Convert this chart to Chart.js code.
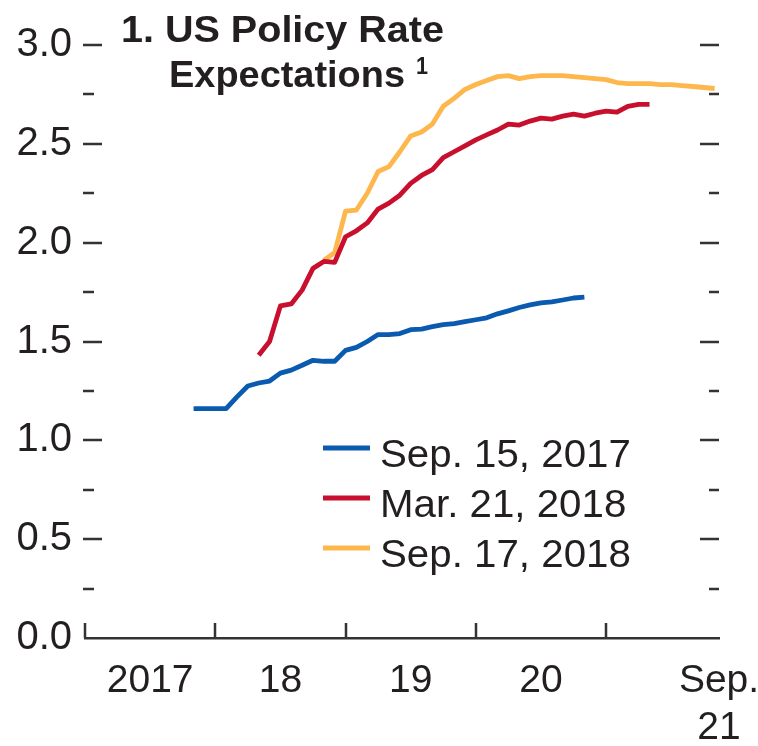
<!DOCTYPE html>
<html>
<head>
<meta charset="utf-8">
<title>US Policy Rate Expectations</title>
<script src="https://cdn.jsdelivr.net/npm/chart.js@4.4.1/dist/chart.umd.min.js"></script>
<style>
    html, body { margin: 0; padding: 0; background: #fff; }
    #wrap { width: 758px; height: 746px; position: relative; }
</style>
</head>
<body>
<div id="wrap"><canvas id="chart"></canvas></div>
<script>
// Courbes de taux implicites (fed funds), x = mois depuis janvier 2017
const seriesLabels = ['Sep. 15, 2017', 'Mar. 21, 2018', 'Sep. 17, 2018'];
const seriesColors = ['#0a5bb0', '#c8102e', '#fdb74d'];

// premier mois de chaque courbe
const seriesStarts = [10, 16, 22];

const sep2017 = [1.16, 1.16, 1.16, 1.16, 1.22, 1.275, 1.29, 1.30, 1.34, 1.355,
    1.38, 1.405, 1.40, 1.40, 1.455, 1.47, 1.50, 1.535, 1.535, 1.54,
    1.56, 1.563, 1.575, 1.585, 1.59, 1.60, 1.61, 1.62, 1.64, 1.655,
    1.672, 1.685, 1.695, 1.70, 1.71, 1.72, 1.725];

const mar2018 = [1.43, 1.50, 1.68, 1.69, 1.76, 1.87, 1.905, 1.90, 2.03, 2.06,
    2.10, 2.17, 2.20, 2.24, 2.30, 2.34, 2.37, 2.43, 2.46, 2.49,
    2.52, 2.545, 2.57, 2.60, 2.595, 2.615, 2.63, 2.625, 2.64, 2.65,
    2.64, 2.655, 2.665, 2.66, 2.69, 2.70, 2.70];

const sep2018 = [1.91, 1.95, 2.16, 2.165, 2.25, 2.36, 2.385, 2.46, 2.54, 2.56,
    2.60, 2.69, 2.73, 2.775, 2.80, 2.82, 2.84, 2.845, 2.83, 2.84,
    2.845, 2.845, 2.845, 2.84, 2.835, 2.83, 2.825, 2.81, 2.805, 2.805,
    2.805, 2.80, 2.80, 2.795, 2.79, 2.785, 2.78];

// axes
const xMax = 58.4;
const yearStarts = [0, 12, 24, 36, 48];
const xTickMonths = [6, 18, 30, 42, 58.4];
const xTickLabels = ['2017', '18', '19', '20', ['Sep.', '21']];
const yMax = 3;
const yStep = 0.5;
const yMinorStep = 0.25;

const FONT = '"Liberation Sans", Arial, Helvetica, sans-serif';
const INK = '#231f20';

function toPoints(values, start) {
    return values.map((v, i) => ({ x: start + i, y: v }));
}

// Petits traits vers l'intérieur sur les deux axes verticaux et en bas
const tickMarks = {
    id: 'tickMarks',
    afterDraw(chart) {
        const { ctx, chartArea: a, scales: { x, y } } = chart;
        ctx.save();
        ctx.strokeStyle = '#333';
        ctx.lineWidth = 2.5;
        ctx.beginPath();
        for (let v = yMinorStep; v <= yMax + 1e-9; v += yMinorStep) {
            const py = Math.round(y.getPixelForValue(v));
            const major = Math.abs(v / yStep - Math.round(v / yStep)) < 1e-6;
            ctx.moveTo(a.left - 2, py);
            ctx.lineTo(a.left + (major ? 17 : 9), py);
            ctx.moveTo(a.right, py);
            ctx.lineTo(a.right - (major ? 19 : 10), py);
        }
        yearStarts.forEach(m => {
            const px = Math.round(x.getPixelForValue(m));
            ctx.moveTo(px, a.bottom);
            ctx.lineTo(px, a.bottom - 15);
        });
        ctx.stroke();
        ctx.restore();
    }
};

// Titre en gras, étiré à la largeur de la source
const panelTitle = {
    id: 'panelTitle',
    afterDraw(chart) {
        const ctx = chart.ctx;
        const line = (text, left, base, width, size) => {
            ctx.font = 'bold ' + size + 'px ' + FONT;
            const w = ctx.measureText(text).width;
            ctx.save();
            ctx.translate(left, base);
            ctx.scale(width / w, 1);
            ctx.fillText(text, 0, 0);
            ctx.restore();
        };
        ctx.save();
        ctx.fillStyle = INK;
        ctx.textBaseline = 'alphabetic';
        ctx.textAlign = 'left';
        line('1. US Policy Rate', 121, 42, 323, 36);
        line('Expectations', 169, 87, 236, 36);
        line('1', 416, 74, 12, 24);
        ctx.restore();
    }
};

// Légende dans la zone du graphique
const insideLegend = {
    id: 'insideLegend',
    afterDraw(chart) {
        const { ctx, chartArea: a } = chart;
        ctx.save();
        ctx.font = '38px ' + FONT;
        ctx.textBaseline = 'alphabetic';
        ctx.textAlign = 'left';
        chart.data.datasets.forEach((ds, i) => {
            const base = a.top + 422 + i * 50;
            ctx.strokeStyle = ds.borderColor;
            ctx.lineWidth = 5;
            ctx.beginPath();
            ctx.moveTo(a.left + 238, base - 19);
            ctx.lineTo(a.left + 285, base - 19);
            ctx.stroke();
            ctx.fillStyle = INK;
            ctx.save();
            ctx.translate(a.left + 295, base);
            ctx.scale(1.06, 1);
            ctx.fillText(ds.label, 0, 0);
            ctx.restore();
        });
        ctx.restore();
    }
};

const datasets = [sep2017, mar2018, sep2018].map((vals, i) => ({
    label: seriesLabels[i],
    data: toPoints(vals, seriesStarts[i]),
    borderColor: seriesColors[i],
    borderWidth: 4.8,
    borderJoinStyle: 'round',
    borderCapStyle: 'butt',
    pointRadius: 0,
    tension: 0,
    fill: false
}));

new Chart(document.getElementById('chart'), {
    type: 'line',
    data: { datasets: datasets },
    options: {
        responsive: true,
        maintainAspectRatio: false,
        animation: false,
        devicePixelRatio: 1,
        layout: { padding: { top: 45, right: 39, left: 0, bottom: 0 } },
        plugins: {
            legend: { display: false },
            tooltip: { enabled: false },
            title: { display: false }
        },
        scales: {
            x: {
                type: 'linear',
                min: 0,
                max: xMax,
                grid: { display: false },
                border: { display: true, color: '#333', width: 2.5 },
                afterBuildTicks: s => { s.ticks = xTickMonths.map(v => ({ value: v })); },
                afterFit: s => {
                    s.height = 108;
                    s.paddingLeft = 0;
                    s.paddingRight = 0;
                },
                ticks: {
                    autoSkip: false,
                    maxRotation: 0,
                    padding: 11,
                    color: INK,
                    font: { family: FONT, size: 39, lineHeight: 1.22 },
                    callback: (v, i) => xTickLabels[i]
                }
            },
            y: {
                min: 0,
                max: yMax,
                grid: { display: false },
                border: { display: false },
                afterFit: s => {
                    s.width = 85;
                    s.paddingTop = 0;
                    s.paddingBottom = 0;
                },
                ticks: {
                    stepSize: yStep,
                    padding: 5,
                    color: INK,
                    font: { family: FONT, size: 40 },
                    callback: v => v.toFixed(1)
                }
            }
        }
    },
    plugins: [tickMarks, panelTitle, insideLegend]
});
</script>
</body>
</html>
